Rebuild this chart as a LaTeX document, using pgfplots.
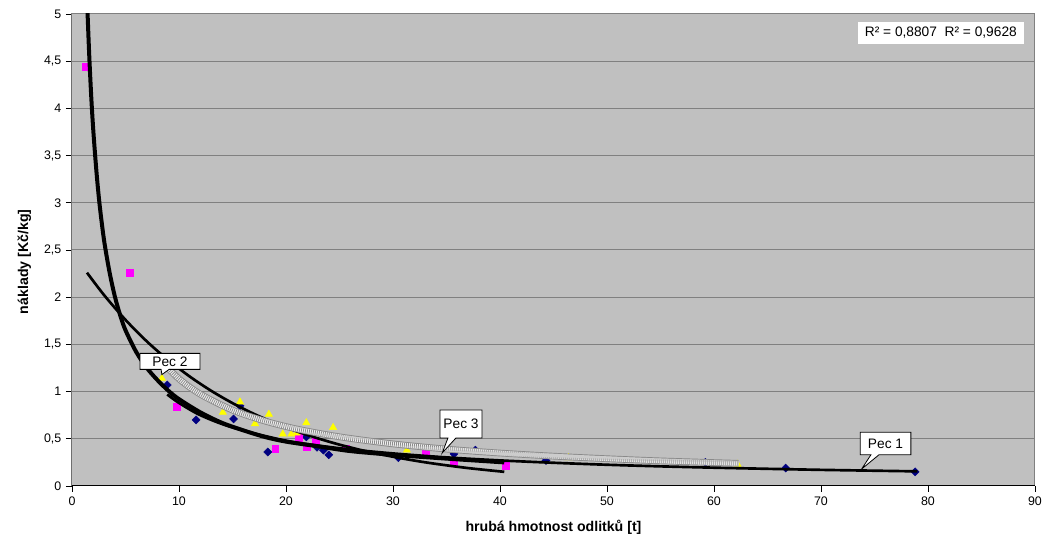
\documentclass[border=0pt]{standalone}
\usepackage{pgfplots}
\pgfplotsset{compat=1.18}
\usepackage{fontspec}
\setmainfont{Liberation Sans}
\usetikzlibrary{shapes.callouts}

\definecolor{plotbg}{HTML}{C0C0C0}
\definecolor{gridgray}{HTML}{808080}
\definecolor{pecnavy}{HTML}{000080}
\definecolor{pecmag}{HTML}{FF00FF}
\definecolor{pecyel}{HTML}{FFFF00}
\definecolor{bandedge}{HTML}{8A8A8A}
\definecolor{bandlight}{HTML}{F0F0F0}
\definecolor{banddot}{HTML}{8C8C8C}

\begin{document}
\begin{tikzpicture}
\useasboundingbox (-54pt,-41.25pt) rectangle (733.5pt,364.5pt);
\begin{axis}[
  scale only axis, width=722.25pt, height=354pt,
  xmin=0, xmax=90, ymin=0, ymax=5,
  clip marker paths=true,
  xtick={0,10,20,30,40,50,60,70,80,90},
  ytick={0,0.5,1,1.5,2,2.5,3,3.5,4,4.5,5},
  axis background/.style={fill=plotbg},
  ymajorgrids, grid style={gridgray, line width=0.75pt},
  axis line style={gridgray, line width=0.75pt},
  tick align=outside, xtick pos=bottom, ytick pos=left,
  major tick length=4.5pt, tick style={black, line width=0.6pt},
  ticklabel style={font=\fontsize{9.3}{10}\selectfont},
  /pgf/number format/use comma,
  /pgf/number format/assume math mode=true,
  /pgf/number format/1000 sep={},
  xlabel={hrubá hmotnost odlitků [t]},
  ylabel={náklady [Kč/kg]},
  label style={font=\bfseries\fontsize{10.6}{12}\selectfont},
  xlabel style={at={(axis description cs:0.5,-0.087)}, anchor=center},
  ylabel style={at={(axis description cs:-0.0495,0.475)}, anchor=center},
]
% left and bottom axis lines in black
\draw[black, line width=0.75pt] (rel axis cs:0,1) -- (rel axis cs:0,0) -- (rel axis cs:1,0);

% Pec 1
\addplot[only marks, pecnavy, mark=square*, mark size=2.1pt,
  mark options={rotate=45}] coordinates {
  (8.9,1.07) (11.6,0.70) (15.1,0.71) (15.7,0.85) (18.3,0.36) (21.9,0.52)
  (22.9,0.41) (23.5,0.38) (24.0,0.33) (30.5,0.30) (35.7,0.34) (37.7,0.38)
  (44.3,0.27) (59.2,0.25) (66.7,0.19) (78.8,0.15)};
% Pec 2
\addplot[only marks, pecmag, mark=square*, mark size=2.6pt] coordinates {
  (1.3,4.44) (5.4,2.26) (9.8,0.84) (19.0,0.39) (21.2,0.51) (21.9,0.42)
  (22.8,0.47) (25.6,0.40) (33.1,0.35) (35.7,0.25) (40.5,0.21)};
% Pec 3
\addplot[only marks, pecyel, mark=triangle*, mark size=3.1pt] coordinates {
  (8.4,1.14) (14.1,0.78) (15.7,0.89) (17.1,0.66) (18.4,0.76) (19.7,0.55)
  (20.5,0.55) (21.0,0.56) (21.9,0.67) (24.4,0.62) (31.3,0.38) (46.4,0.30)
  (62.2,0.23)};

% trend lines
\addplot[black, line width=2pt, smooth] coordinates {
  (8.9,0.97) (10,0.88) (12,0.75) (15,0.62) (20,0.48) (25,0.40)
  (30,0.345) (35,0.303) (40,0.271) (45,0.246) (50,0.225) (55,0.208)
  (60,0.194) (65,0.182) (70,0.171) (75,0.162) (79,0.155)};
\addplot[black, line width=3pt, smooth] coordinates {
  (1.4,5.17) (1.6,4.59) (1.8,4.12) (2.0,3.75) (2.3,3.31) (2.6,2.96)
  (3.0,2.60) (3.5,2.27) (4.0,2.01) (4.5,1.81) (5.0,1.65) (6.0,1.42)
  (7.0,1.25) (8.0,1.12) (9.0,1.01) (10,0.92) (12,0.78) (14,0.67)
  (16,0.59) (18,0.52) (20,0.47) (23,0.42) (26,0.37) (30,0.33)
  (35,0.29) (40.4,0.25)};
\addplot[black, line width=2pt, smooth] coordinates {
  (1.4,2.26) (3,2.022) (5,1.760) (7,1.531) (9,1.333) (11,1.160)
  (13,1.009) (15,0.878) (17,0.764) (19,0.665) (21,0.579) (23,0.504)
  (25,0.438) (27,0.381) (29,0.332) (31,0.289) (33,0.251) (35,0.219)
  (37,0.190) (39,0.166) (40.4,0.150)};
% Pec 3 trend, hatched band
\pgfplotstableread{
x y
8.4 1.317
10 1.135
12 0.972
15 0.804
18 0.689
21 0.604
25 0.521
30 0.446
35 0.391
40 0.349
45 0.316
50 0.289
55 0.266
62.3 0.240
}\bandtrend
\addplot[bandedge, line width=5pt, smooth] table[x=x,y=y] {\bandtrend};
\addplot[bandlight, line width=3.6pt, smooth] table[x=x,y=y] {\bandtrend};
\addplot[banddot, line width=3.6pt, smooth, dash pattern=on 0.6pt off 0.9pt] table[x=x,y=y] {\bandtrend};

\coordinate (tip2) at (axis cs:8.4,1.18);
\coordinate (box2) at (axis cs:9.16,1.32);
\coordinate (tip3) at (axis cs:34.6,0.35);
\coordinate (box3) at (axis cs:36.36,0.657);
\coordinate (tip1) at (axis cs:73.8,0.18);
\coordinate (box1) at (axis cs:76.03,0.45);
\coordinate (rsq) at (axis cs:81.2,4.80);
\end{axis}

\begin{scope}[every node/.style={font=\fontsize{10.3}{12}\selectfont}]
\node[rectangle callout, draw=black, line width=0.6pt, fill=white, inner sep=0pt,
  minimum width=45pt, minimum height=12pt, callout pointer width=6pt,
  callout absolute pointer=(tip2)] at (box2) {Pec 2};
\node[rectangle callout, draw=black, line width=0.6pt, fill=white, inner sep=0pt,
  minimum width=31.5pt, minimum height=21pt, callout pointer width=6pt,
  callout absolute pointer=(tip3)] at (box3) {Pec 3};
\node[rectangle callout, draw=black, line width=0.6pt, fill=white, inner sep=0pt,
  minimum width=38pt, minimum height=17pt, callout pointer width=6pt,
  callout absolute pointer=(tip1)] at (box1) {Pec 1};
\node[fill=white, inner sep=0pt, minimum width=124pt, minimum height=16pt] at (rsq)
  {R² = 0,8807\ \ R² = 0,9628};
\end{scope}
\end{tikzpicture}
\end{document}
